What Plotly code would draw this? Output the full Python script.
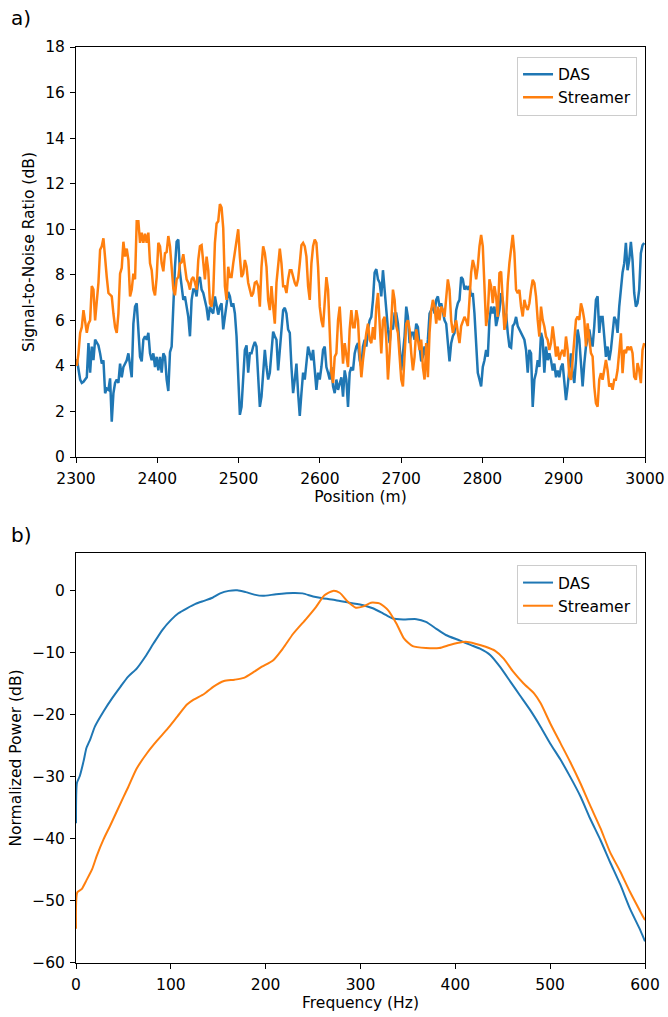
import numpy as np
import plotly.graph_objects as go

# ---------------- Panel a data: SNR vs position ----------------
das_snr_1 = [4.3, 3.9, 3.4, 3.25, 3.3, 3.4, 3.5, 5.0, 3.7, 4.85, 4.25, 5.15, 5.05, 4.9, 4.55, 4.1, 4.25, 2.8, 3.0, 2.95,
             3.45, 1.55, 2.8, 3.25, 3.4, 3.25, 4.1, 3.5, 3.95, 4.1, 4.25, 4.55, 3.95, 3.5, 5.85, 6.6, 6.75, 5.7, 4.4, 4.2,
             5.15, 5.3, 5.15, 5.45, 4.55, 4.25, 4.55, 3.95, 4.4, 3.8, 4.4, 3.7, 4.55, 4.4, 3.4, 2.9, 4.6, 4.85, 6.9, 8.35,
             9.45, 9.55, 8.1, 7.35, 6.9, 7.05, 6.6, 6.15, 5.3, 6.9, 7.35, 7.35, 7.05, 7.8, 7.9, 7.35, 7.2, 6.9, 6.55, 6.0,
             6.6, 6.4, 6.3, 7.05, 6.6, 6.25]
das_snr_2 = [6.6, 6.75, 5.6, 6.15, 6.9, 7.25, 7.05, 6.6, 6.75, 6.3, 5.3, 3.4, 1.85, 2.2, 3.4, 4.7, 4.9, 3.7, 4.55, 4.55,
             4.85, 5.05, 4.85, 3.4, 2.2, 2.65, 3.7, 4.7, 3.95, 3.4, 3.7, 4.55, 5.5, 5.3, 5.15, 3.8, 4.7, 5.7, 6.45, 6.55,
             6.3, 5.6, 5.45, 3.95, 2.8, 3.4, 4.1, 2.8, 1.8, 2.8, 3.7, 3.4, 4.25, 4.85, 4.55, 4.25, 4.7, 3.95, 2.95, 3.7,
             3.4, 3.95, 4.7, 4.85, 3.95, 3.7, 3.4, 3.95, 3.1, 2.8, 3.4, 2.95, 3.25, 3.5, 2.65, 3.8, 3.4, 2.2, 3.7, 3.95,
             3.8, 4.55, 4.85, 5.0]
das_snr_3 = [4.25, 3.95, 4.85, 5.15, 4.85, 5.6, 6.0, 6.15, 6.9, 8.1, 8.25, 7.8, 7.65, 7.05, 8.2, 7.35, 6.3, 5.6, 5.0, 5.75,
             5.6, 6.3, 6.3, 5.85, 4.85, 3.8, 4.55, 5.3, 6.6, 6.15, 5.0, 5.45, 5.45, 5.15, 5.85, 5.7, 4.85, 4.2, 4.4, 4.85,
             4.4, 5.15, 6.3, 6.45, 6.6, 6.3, 6.9, 7.05, 6.6, 6.75, 6.3, 6.0, 5.85, 5.15, 4.2, 5.0, 5.3, 5.45, 6.45, 6.75,
             6.9, 7.9, 7.8, 7.35, 7.5, 7.35, 7.5, 7.05, 7.2, 6.3, 5.15, 3.7, 3.4, 3.1, 3.95, 4.25, 4.7, 4.4, 6.0, 6.6,
             6.3, 6.6, 5.75, 6.15]
das_snr_4 = [6.45, 7.2, 6.9, 6.0, 6.3, 5.45, 4.85, 4.8, 5.75, 5.85, 6.15, 5.75, 5.6, 5.45, 5.3, 5.15, 4.7, 3.7, 4.7, 4.55,
             2.2, 3.4, 3.7, 4.25, 3.95, 5.45, 5.15, 3.7, 4.85, 4.25, 4.55, 4.25, 3.8, 4.1, 3.5, 3.8, 3.5, 3.95, 4.1, 3.4,
             2.5, 3.1, 3.95, 4.55, 3.7, 3.25, 4.25, 5.6, 5.15, 3.95, 3.1, 4.1, 4.85, 5.15, 5.6, 5.15, 4.85, 5.75, 6.9, 7.05,
             5.45, 6.15, 6.15, 5.3, 4.4, 4.85, 4.25, 4.7, 5.45, 6.15, 6.0, 5.45, 6.6, 7.35, 8.1, 8.5, 9.4, 8.2, 8.65, 9.45,
             8.65, 7.2, 6.6, 6.75, 7.35, 8.95, 9.3, 9.4]

str_snr_1 = [4.0, 4.55, 5.45, 5.7, 6.45, 5.85, 5.45, 5.85, 6.0, 7.5, 7.35, 6.0, 6.9, 7.65, 9.1, 9.25, 9.6, 8.65, 7.9, 7.2,
             7.1, 7.05, 6.3, 5.7, 5.45, 6.3, 8.05, 8.3, 9.45, 8.8, 9.15, 8.65, 7.05, 7.35, 8.05, 7.8, 10.35, 10.35, 9.4, 9.85,
             9.4, 9.8, 9.4, 9.85, 8.5, 8.2, 7.35, 7.1, 7.9, 9.4, 9.25, 8.5, 8.15, 8.95, 9.0, 9.7, 9.25, 8.35, 7.4, 7.1,
             7.8, 7.9, 8.5, 8.55, 8.9, 8.35, 7.8, 7.65, 7.35, 7.8, 7.9, 7.65, 7.35, 8.65, 9.25, 9.3, 8.35, 7.8, 8.8, 8.2,
             6.75, 6.6, 7.2, 9.4, 10.25, 10.35]
str_snr_2 = [11.1, 10.95, 10.05, 7.5, 6.9, 8.35, 7.9, 7.9, 8.5, 9.0, 9.55, 10.0, 8.8, 7.9, 8.05, 8.65, 8.35, 7.65, 7.35, 7.05,
             7.2, 7.65, 7.7, 7.5, 6.6, 8.35, 9.25, 8.95, 8.35, 6.9, 6.45, 7.5, 6.6, 5.85, 7.65, 8.5, 9.15, 8.5, 7.5, 7.5,
             7.2, 7.8, 8.2, 8.2, 7.9, 7.65, 7.5, 7.8, 8.5, 9.3, 9.4, 9.25, 8.8, 7.5, 6.9, 8.5, 9.25, 9.55, 9.4, 8.35,
             6.6, 6.0, 5.7, 6.9, 7.9, 7.35, 5.45, 3.7, 3.25, 4.4, 4.55, 6.0, 6.6, 5.3, 4.1, 5.0, 4.55, 3.95, 5.6, 6.45,
             5.7, 5.7, 6.45, 6.0]
str_snr_3 = [4.55, 3.5, 4.25, 5.0, 5.45, 5.85, 5.15, 5.0, 5.7, 5.15, 6.6, 7.2, 6.0, 4.55, 6.0, 6.15, 5.15, 3.4, 4.55, 5.85,
             7.35, 6.9, 5.75, 5.45, 4.55, 3.4, 3.1, 4.85, 5.85, 6.0, 5.6, 4.55, 3.8, 4.4, 5.6, 5.15, 4.7, 5.15, 3.95, 3.4,
             5.0, 3.5, 5.45, 6.45, 6.9, 6.6, 5.85, 6.6, 6.0, 6.6, 6.45, 6.15, 7.05, 7.8, 7.35, 6.0, 5.45, 5.75, 6.0, 5.45,
             5.0, 5.75, 6.0, 6.15, 6.0, 5.75, 6.9, 8.1, 8.65, 8.35, 7.8, 8.35, 9.25, 9.75, 9.25, 7.2, 5.75, 6.3, 7.8, 7.5,
             6.75, 7.5, 7.05, 6.15]
str_snr_4 = [8.07, 8.14, 6.6, 5.58, 6.02, 7.63, 8.51, 9.24, 9.75, 8.95, 7.34, 7.19, 7.34, 6.6, 6.17, 6.9, 6.6, 6.46, 6.75, 7.34,
             7.78, 7.63, 7.05, 6.02, 5.29, 6.6, 6.02, 5.73, 5.29, 5.14, 4.7, 5.0, 5.73, 5.14, 4.41, 4.85, 4.26, 4.56, 4.7, 4.41,
             5.29, 4.7, 3.53, 3.39, 4.41, 5.0, 6.02, 6.17, 6.02, 6.75, 6.46, 6.02, 4.85, 5.87, 5.29, 4.56, 4.41, 3.09, 2.36, 2.21,
             3.39, 3.68, 3.39, 3.82, 4.26, 3.82, 3.09, 3.24, 2.95, 3.39, 3.39, 3.82, 4.56, 5.43, 3.68, 4.7, 4.56, 4.85, 4.7, 4.85,
             4.56, 3.53, 3.39, 4.12, 3.82, 3.24, 4.7, 5.0]

das_snr = das_snr_1 + das_snr_2 + das_snr_3 + das_snr_4
str_snr = str_snr_1 + str_snr_2 + str_snr_3 + str_snr_4
pos_start, pos_end = 2301.0, 2999.0
das_pos = np.linspace(pos_start, pos_end, len(das_snr))
str_pos = np.linspace(pos_start, pos_end, len(str_snr))

# ---------------- Panel b data: normalized power spectrum ----------------
das_freq = [0, 1, 4, 8, 11, 15, 20, 29, 38, 47, 55, 64, 73, 82, 91, 100, 108, 117, 126, 135, 144, 152, 161, 170,
            179, 188, 197, 211, 229, 239, 250, 260, 274, 288, 303, 313, 324, 334, 345, 359, 369, 380, 390, 405,
            416, 426, 437, 447, 458, 468, 479, 490, 500, 511, 521, 532, 542, 553, 563, 574, 584, 595, 600]
das_pow = [-37.5, -31.0, -29.9, -27.5, -25.4, -24.0, -21.9, -19.5, -17.4, -15.5, -13.9, -12.6, -10.7, -8.5, -6.4,
           -4.8, -3.7, -2.9, -2.2, -1.7, -1.2, -0.5, -0.1, 0.0, -0.3, -0.7, -0.9, -0.64, -0.43, -0.5, -1.0, -1.3,
           -1.6, -2.0, -2.4, -2.9, -3.75, -4.55, -4.7, -4.65, -5.1, -6.2, -7.2, -8.1, -8.8, -9.4, -10.45, -12.3,
           -14.7, -16.9, -19.3, -22.0, -24.65, -27.3, -30.0, -33.2, -36.7, -40.2, -43.7, -47.4, -51.2, -54.7, -56.5]
str_freq = [0, 1.4, 6, 11, 17, 22, 29, 36, 50, 55, 64, 75, 85, 96, 107, 117, 124, 135, 145, 156, 167, 177, 188,
            196, 208, 218, 229, 243, 253, 262, 271, 278, 287, 295, 303, 311, 320, 329, 338, 346, 355, 369, 383,
            394, 402, 411, 421, 432, 442, 451, 461, 472, 483, 490, 500, 511, 521, 532, 542, 553, 563, 574, 584,
            595, 600]
str_pow = [-54.5, -48.6, -48.1, -46.7, -44.9, -42.7, -40.1, -37.9, -33.3, -31.7, -28.7, -26.2, -24.3, -22.4, -20.3,
           -18.4, -17.6, -16.7, -15.5, -14.6, -14.4, -14.1, -13.1, -12.3, -11.25, -9.4, -7.0, -4.55, -2.7, -0.8,
           -0.1, -0.4, -1.9, -2.8, -2.6, -2.0, -2.1, -3.2, -5.4, -7.8, -9.0, -9.3, -9.3, -8.8, -8.5, -8.3, -8.6,
           -9.1, -9.75, -11.0, -13.1, -15.0, -16.6, -18.2, -21.4, -24.65, -27.6, -31.1, -34.6, -38.3, -42.1,
           -45.3, -48.5, -51.7, -53.1]

BLUE = "#1f77b4"
ORANGE = "#ff7f0e"
FONT = "DejaVu Sans"
FS = 15.5

fig = go.Figure()
fig.add_trace(go.Scatter(x=das_pos, y=das_snr, mode="lines", name="DAS",
                         line=dict(color=BLUE, width=2.5), xaxis="x", yaxis="y", legend="legend"))
fig.add_trace(go.Scatter(x=str_pos, y=str_snr, mode="lines", name="Streamer",
                         line=dict(color=ORANGE, width=2.5), xaxis="x", yaxis="y", legend="legend"))
fig.add_trace(go.Scatter(x=das_freq, y=das_pow, mode="lines", name="DAS",
                         line=dict(color=BLUE, width=2.0, shape="spline", smoothing=0.6),
                         xaxis="x2", yaxis="y2", legend="legend2"))
fig.add_trace(go.Scatter(x=str_freq, y=str_pow, mode="lines", name="Streamer",
                         line=dict(color=ORANGE, width=2.0, shape="spline", smoothing=0.6),
                         xaxis="x2", yaxis="y2", legend="legend2"))

axis_common = dict(showline=True, linecolor="black", linewidth=1, mirror=True, ticks="outside",
                   ticklen=5, tickwidth=1, tickcolor="black", showgrid=False, zeroline=False,
                   ticklabelstandoff=2, automargin=False,
                   tickfont=dict(family=FONT, size=FS, color="black"))

fig.update_layout(
    width=668, height=1017,
    margin=dict(l=76, r=23, t=47, b=54),
    paper_bgcolor="white", plot_bgcolor="white",
    font=dict(family=FONT, size=FS, color="black"),
    xaxis=dict(domain=[0, 1], anchor="y", range=[2300, 3000], tickvals=list(range(2300, 3001, 100)),
               title=dict(text="Position (m)", font=dict(size=FS), standoff=4), **axis_common),
    yaxis=dict(domain=[0.5524, 1.0], anchor="x", range=[0, 18], tickvals=list(range(0, 19, 2)),
               title=dict(text="Signal-to-Noise Ratio (dB)", font=dict(size=FS), standoff=6), **axis_common),
    xaxis2=dict(domain=[0, 1], anchor="y2", range=[0, 600], tickvals=list(range(0, 601, 100)),
                title=dict(text="Frequency (Hz)", font=dict(size=FS), standoff=4), **axis_common),
    yaxis2=dict(domain=[0, 0.4476], anchor="x2", range=[-60, 6], tickvals=list(range(-60, 1, 10)),
                title=dict(text="Normalized Power (dB)", font=dict(size=FS), standoff=6), **axis_common),
    legend=dict(x=0.986, y=0.9895, xanchor="right", yanchor="top", bgcolor="rgba(255,255,255,0.8)",
                bordercolor="#cccccc", borderwidth=1, font=dict(family=FONT, size=FS), tracegroupgap=0),
    legend2=dict(x=0.986, y=0.4345, xanchor="right", yanchor="top", bgcolor="rgba(255,255,255,0.8)",
                 bordercolor="#cccccc", borderwidth=1, font=dict(family=FONT, size=FS), tracegroupgap=0),
    annotations=[
        dict(text="a)", xref="paper", yref="paper", x=-0.118, y=1.032, xanchor="left", yanchor="middle",
             showarrow=False, font=dict(family=FONT, size=20)),
        dict(text="b)", xref="paper", yref="paper", x=-0.118, y=0.467, xanchor="left", yanchor="middle",
             showarrow=False, font=dict(family=FONT, size=20)),
    ],
)

fig.write_html("out.html")
